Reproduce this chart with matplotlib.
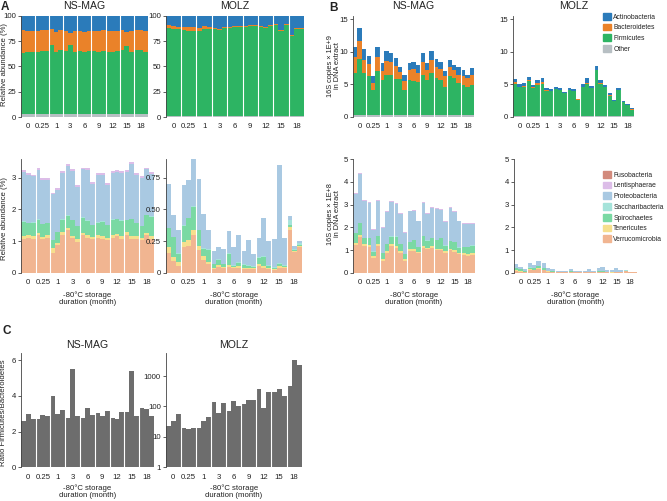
import matplotlib.pyplot as plt
import numpy as np
from matplotlib.patches import Patch

plt.rcParams['font.family'] = ['Liberation Sans', 'DejaVu Sans']
plt.rcParams['text.color'] = '#222222'
plt.rcParams['axes.edgecolor'] = '#444444'
plt.rcParams['xtick.color'] = '#444444'
plt.rcParams['ytick.color'] = '#444444'
plt.rcParams['xtick.labelcolor'] = '#222222'
plt.rcParams['ytick.labelcolor'] = '#222222'

W, H = 667, 501
FS = 5.6      # small text (ticks, labels)
FS_L = 4.9    # legend text
FS_T = 7.6    # panel titles

# storage durations (month), 3 replicate bars each
months = ["0", "0.25", "1", "3", "6", "9", "12", "15", "18"]

top_names = ["Actinobacteria", "Bacteroidetes", "Firmicutes", "Other"]
top_colors = ["#2b7bba", "#ea8229", "#2db463", "#b7bfc3"]
low_names = ["Fusobacteria", "Lentisphaerae", "Proteobacteria", "Saccharibacteria",
             "Spirochaetes", "Tenericutes", "Verrucomicrobia"]
low_colors = ["#d28a7c", "#dcbde8", "#a9c9e2", "#a5e3da", "#7ad9a3", "#f6df8d", "#f1b591"]

# ---- A, top: relative abundance (%) of main phyla
a_ns_other = [3.0, 3.2, 2.8, 3.0, 3.1, 2.9, 3.0, 2.8, 3.2, 3.0, 3.0, 2.9, 3.1, 3.0, 2.9, 3.0, 3.1, 3.0,
              2.9, 3.0, 3.1, 3.0, 3.0, 2.9, 3.0, 3.1, 3.0]
a_ns_firm = [60, 61, 61, 61, 62, 62, 68, 61, 63, 62, 68, 61, 62, 61, 62, 62, 61, 62,
             61, 61, 62, 63, 67, 61, 63, 63, 61]
a_ns_bact = [23, 21, 21, 21, 21, 21, 16, 20, 20, 20, 12, 21, 20, 20, 20, 20, 21, 21,
             21, 21, 20, 20, 13.5, 21, 20, 20, 21]
a_ns_actino = [14, 15, 15, 15, 14, 14, 13, 16, 14, 15, 17, 15, 15, 16, 15, 15, 15, 14,
               15, 15, 15, 14, 16.5, 15, 14, 14, 15]

a_mz_other = [0.5, 0.5, 0.5, 0.5, 0.5, 0.5, 0.5, 0.5, 0.5, 0.5, 0.5, 0.5, 0.5, 0.5, 0.5, 0.5, 0.5, 0.5,
              0.5, 0.5, 0.5, 0.5, 0.5, 0.5, 0.5, 0.5, 0.5]
a_mz_firm = [87.5, 86.5, 86.5, 85.5, 84.5, 84.5, 84.5, 86.5, 86.5, 86.5, 85.5, 87.5, 87.5, 88.5, 88.5, 88.5,
             89.5, 89.5, 88.5, 87.5, 89.5, 90.5, 84.5, 90.5, 79.5, 86.5, 86.5]
a_mz_bact = [3.0, 2.5, 2.0, 3.0, 3.5, 4.0, 3.0, 2.5, 2.0, 1.0, 1.0, 0.5, 1.0, 0.5, 0.5, 0.5, 0.5, 0.5,
             0.5, 0.5, 0.5, 0.5, 0.5, 0.5, 0.5, 0.5, 0.5]
a_mz_actino = [9.0, 10.5, 11.0, 11.0, 11.5, 11.0, 12.0, 10.5, 11.0, 12.0, 13.0, 11.5, 11.0, 10.5, 10.5, 10.5,
               9.5, 9.5, 10.5, 11.5, 9.5, 8.5, 14.5, 8.5, 19.5, 12.5, 12.5]

# ---- A, bottom: relative abundance (%) of minor phyla
a_ns_verru = [1.08, 1.11, 1.08, 1.19, 1.05, 1.11, 0.61, 0.87, 1.20, 1.35, 1.10, 0.98, 1.19, 1.11, 1.05, 1.11,
              1.08, 1.03, 1.11, 1.16, 1.08, 1.20, 1.08, 1.08, 1.03, 1.19, 1.08]
a_ns_tener = [0.08, 0.07, 0.07, 0.07, 0.07, 0.07, 0.16, 0.08, 0.07, 0.07, 0.07, 0.07, 0.07, 0.07, 0.07, 0.07,
              0.07, 0.07, 0.07, 0.07, 0.07, 0.07, 0.07, 0.07, 0.07, 0.07, 0.07]
a_ns_spiro = [0.45, 0.38, 0.43, 0.42, 0.41, 0.38, 0.26, 0.34, 0.41, 0.38, 0.48, 0.42, 0.48, 0.46, 0.38, 0.40,
              0.46, 0.40, 0.50, 0.47, 0.49, 0.38, 0.55, 0.41, 0.37, 0.56, 0.62]
a_ns_sacch = [0.01, 0.01, 0.01, 0.01, 0.01, 0.01, 0.01, 0.01, 0.01, 0.01, 0.01, 0.01, 0.01, 0.01, 0.01, 0.01,
              0.01, 0.01, 0.01, 0.01, 0.01, 0.01, 0.01, 0.01, 0.01, 0.01, 0.01]
a_ns_prot = [1.56, 1.52, 1.45, 1.55, 1.40, 1.37, 1.43, 1.30, 1.45, 1.55, 1.55, 1.23, 1.51, 1.59, 1.30, 1.51,
             1.48, 1.25, 1.45, 1.47, 1.49, 1.52, 1.72, 1.51, 1.51, 1.43, 1.35]
a_ns_lenti = [0.06, 0.07, 0.06, 0.06, 0.06, 0.06, 0.06, 0.06, 0.06, 0.06, 0.06, 0.06, 0.06, 0.06, 0.06, 0.06,
              0.06, 0.06, 0.06, 0.06, 0.06, 0.06, 0.06, 0.06, 0.06, 0.06, 0.06]

a_mz_verru = [0.155, 0.094, 0.054, 0.20, 0.21, 0.295, 0.18, 0.10, 0.067, 0.027, 0.046, 0.035, 0.046, 0.035,
              0.04, 0.027, 0.027, 0.027, 0.054, 0.04, 0.027, 0.019, 0.04, 0.035, 0.34, 0.16, 0.20]
a_mz_tener = [0.045, 0.032, 0.03, 0.04, 0.05, 0.045, 0.03, 0.03, 0.02, 0.012, 0.012, 0.01, 0.012, 0.008,
              0.01, 0.008, 0.008, 0.008, 0.015, 0.012, 0.008, 0.008, 0.015, 0.008, 0.02, 0.008, 0.008]
a_mz_spiro = [0.15, 0.154, 0.063, 0.13, 0.17, 0.18, 0.125, 0.06, 0.093, 0.028, 0.042, 0.022, 0.089, 0.011,
              0.03, 0.027, 0.019, 0.011, 0.051, 0.074, 0.019, 0.013, 0.017, 0.011, 0.02, 0.012, 0.01]
a_mz_sacch = [0.005, 0.005, 0.005, 0.005, 0.005, 0.005, 0.005, 0.005, 0.005, 0.005, 0.005, 0.005, 0.005, 0.005,
              0.005, 0.005, 0.005, 0.005, 0.005, 0.005, 0.005, 0.005, 0.005, 0.005, 0.035, 0.01, 0.018]
a_mz_prot = [0.345, 0.17, 0.188, 0.315, 0.295, 0.375, 0.40, 0.265, 0.155, 0.102, 0.095, 0.118, 0.178, 0.141,
             0.21, 0.103, 0.201, 0.096, 0.15, 0.299, 0.191, 0.225, 0.773, 0.216, 0.03, 0.02, 0.017]

# ---- B, top: 16S copies x 1E+9
b_ns_other = [0.3, 0.3, 0.3, 0.3, 0.3, 0.3, 0.3, 0.3, 0.3, 0.3, 0.3, 0.3, 0.3, 0.3, 0.3, 0.3, 0.3, 0.3,
              0.3, 0.3, 0.3, 0.3, 0.3, 0.3, 0.3, 0.3, 0.3]
b_ns_firm = [6.5, 8.6, 6.4, 6.0, 3.8, 6.7, 5.35, 6.1, 6.1, 5.45, 5.45, 3.8, 5.35, 5.25, 5.1, 6.1, 5.35, 6.4,
             5.6, 5.35, 4.3, 5.9, 5.6, 4.95, 4.6, 4.3, 4.6]
b_ns_bact = [2.4, 2.8, 2.0, 1.8, 1.1, 2.2, 1.35, 2.2, 2.1, 2.05, 1.15, 1.4, 1.55, 1.75, 1.3, 2.1, 1.55, 2.0,
             1.8, 1.65, 1.6, 1.4, 1.3, 1.25, 1.4, 1.3, 1.5]
b_ns_actino = [1.5, 2.0, 1.7, 1.25, 1.1, 1.6, 1.2, 1.5, 1.35, 1.3, 0.8, 0.9, 1.1, 1.2, 1.3, 1.35, 1.0, 1.4,
               1.2, 1.1, 0.8, 1.1, 0.8, 1.1, 0.9, 0.6, 1.1]

b_mz_other = [0.05, 0.05, 0.05, 0.05, 0.05, 0.05, 0.05, 0.05, 0.05, 0.05, 0.05, 0.05, 0.05, 0.05, 0.05, 0.05,
              0.05, 0.05, 0.05, 0.05, 0.05, 0.05, 0.05, 0.05, 0.05, 0.05, 0.05]
b_mz_firm = [5.05, 4.45, 4.55, 5.45, 4.3, 4.85, 5.05, 3.95, 3.9, 4.15, 4.05, 3.55, 4.05, 3.9, 2.6, 4.55,
             5.05, 4.3, 7.15, 5.05, 4.45, 3.2, 2.4, 4.05, 2.15, 1.7, 1.05]
b_mz_bact = [0.17, 0.13, 0.1, 0.18, 0.17, 0.23, 0.18, 0.11, 0.08, 0.05, 0.04, 0.02, 0.04, 0.02, 0.01, 0.02,
             0.03, 0.02, 0.04, 0.03, 0.02, 0.02, 0.01, 0.02, 0.01, 0.01, 0.01]
b_mz_actino = [0.48, 0.47, 0.5, 0.47, 0.38, 0.52, 0.62, 0.24, 0.17, 0.35, 0.31, 0.23, 0.26, 0.28, 0.14, 0.38,
               0.77, 0.43, 0.56, 0.52, 0.38, 0.33, 0.19, 0.28, 0.24, 0.19, 0.19]

# ---- B, bottom: 16S copies x 1E+8
b_ns_verru = [1.22, 1.56, 1.19, 1.14, 0.67, 1.19, 0.52, 0.89, 1.19, 1.11, 0.89, 0.52, 0.96, 0.96, 0.85, 1.11,
              1.04, 1.11, 0.99, 0.99, 0.89, 0.99, 0.93, 0.82, 0.79, 0.74, 0.79]
b_ns_tener = [0.07, 0.10, 0.07, 0.07, 0.07, 0.07, 0.10, 0.07, 0.07, 0.07, 0.07, 0.07, 0.07, 0.07, 0.07, 0.07,
              0.07, 0.07, 0.07, 0.07, 0.07, 0.07, 0.07, 0.07, 0.07, 0.07, 0.07]
b_ns_spiro = [0.45, 0.52, 0.27, 0.32, 0.19, 0.37, 0.23, 0.30, 0.33, 0.41, 0.30, 0.23, 0.31, 0.41, 0.22, 0.45,
              0.30, 0.35, 0.38, 0.47, 0.23, 0.32, 0.34, 0.22, 0.28, 0.33, 0.33]
b_ns_sacch = [0.01, 0.01, 0.01, 0.01, 0.01, 0.01, 0.01, 0.01, 0.01, 0.01, 0.01, 0.01, 0.01, 0.01, 0.01, 0.01,
              0.01, 0.01, 0.01, 0.01, 0.01, 0.01, 0.01, 0.01, 0.01, 0.01, 0.01]
b_ns_prot = [1.71, 2.17, 1.64, 1.54, 0.93, 1.54, 1.13, 1.41, 1.52, 1.43, 1.32, 0.91, 1.35, 1.28, 1.11, 1.44,
             1.17, 1.31, 1.37, 1.24, 1.02, 1.46, 1.33, 1.14, 0.99, 0.99, 0.94]
b_ns_lenti = [0.04, 0.04, 0.04, 0.04, 0.04, 0.04, 0.04, 0.04, 0.04, 0.04, 0.04, 0.04, 0.04, 0.04, 0.04, 0.04,
              0.04, 0.04, 0.04, 0.04, 0.04, 0.04, 0.04, 0.04, 0.04, 0.04, 0.04]

b_mz_verru = [0.089, 0.048, 0.028, 0.123, 0.103, 0.167, 0.106, 0.044, 0.028, 0.012, 0.020, 0.013, 0.020, 0.015,
              0.011, 0.014, 0.016, 0.013, 0.042, 0.023, 0.013, 0.007, 0.011, 0.015, 0.083, 0.031, 0.026]
b_mz_tener = [0.026, 0.016, 0.016, 0.025, 0.025, 0.025, 0.018, 0.013, 0.008, 0.005, 0.005, 0.005, 0.005, 0.005,
              0.005, 0.005, 0.005, 0.005, 0.005, 0.005, 0.005, 0.005, 0.005, 0.005, 0.005, 0.003, 0.002]
b_mz_spiro = [0.086, 0.079, 0.033, 0.080, 0.083, 0.102, 0.074, 0.026, 0.039, 0.013, 0.019, 0.008, 0.039, 0.005,
              0.008, 0.014, 0.011, 0.005, 0.040, 0.042, 0.009, 0.005, 0.005, 0.005, 0.005, 0.002, 0.001]
b_mz_sacch = [0.003, 0.003, 0.003, 0.003, 0.003, 0.003, 0.003, 0.003, 0.003, 0.003, 0.003, 0.003, 0.003, 0.003,
              0.003, 0.003, 0.003, 0.003, 0.003, 0.003, 0.003, 0.003, 0.003, 0.003, 0.009, 0.002, 0.002]
b_mz_prot = [0.198, 0.087, 0.098, 0.194, 0.145, 0.212, 0.236, 0.115, 0.065, 0.047, 0.042, 0.045, 0.078, 0.06,
             0.059, 0.052, 0.119, 0.046, 0.117, 0.169, 0.094, 0.081, 0.205, 0.095, 0.007, 0.004, 0.002]

# ---- C: Firmicutes / Bacteroidetes ratio
c_ns_ratio = [2.6, 3.0, 2.7, 2.7, 2.95, 2.85, 4.0, 3.0, 3.2, 2.75, 5.5, 2.85, 2.75, 3.3, 2.95, 3.05, 2.85, 3.15,
              2.75, 2.7, 3.1, 3.1, 5.4, 2.85, 3.3, 3.25, 2.9]
c_mz_ratio = [23, 34, 58, 20, 18, 19, 19, 34, 44, 140, 63, 127, 73, 150, 104, 122, 163, 163,
              376, 91, 290, 310, 370, 225, 460, 3300, 2250]


fig = plt.figure(figsize=(W / 100, H / 100), dpi=100)


def px_axes(x0, y0, x1, y1):
    """axes from pixel box (left, top, right, bottom)"""
    return fig.add_axes([x0 / W, 1 - y1 / H, (x1 - x0) / W, (y1 - y0) / H])


def stacked(ax, layers, colors):
    x = np.arange(len(layers[0]))
    bottom = np.zeros(len(x))
    for vals, c in zip(layers, colors):
        ax.bar(x, vals, width=1.0, bottom=bottom, color=c, linewidth=0)
        bottom += np.array(vals)


def style(ax, ylim, yticks, yticklabels=None):
    ax.set_xlim(-0.5, 26.5)
    ax.set_ylim(*ylim)
    for xv in np.arange(2.5, 26, 3):
        ax.axvline(xv, color='white', lw=0.8)
    ax.set_xticks(np.arange(1, 27, 3))
    ax.set_xticklabels(months)
    ax.tick_params(axis='x', length=0, pad=4.5, labelsize=FS)
    ax.tick_params(axis='y', length=2.2, width=0.6, pad=1.2, labelsize=FS)
    ax.set_yticks(yticks)
    if yticklabels is not None:
        ax.set_yticklabels(yticklabels)
    for s in ['top', 'right', 'bottom']:
        ax.spines[s].set_visible(False)
    ax.spines['left'].set_linewidth(0.6)


def xlab(ax, y):
    box = ax.get_position()
    fig.text(box.x0 + box.width / 2, 1 - y / H, "-80°C storage\nduration (month)",
             ha='center', va='center', fontsize=FS, linespacing=1.05)


def ylab(x, y, s, fs=FS):
    fig.text(x / W, 1 - y / H, s, rotation=90, ha='center', va='center', fontsize=fs, linespacing=1.0)


# Panel A top
ax = px_axes(20.7, 15.7, 148, 117)
stacked(ax, [a_ns_other, a_ns_firm, a_ns_bact, a_ns_actino], top_colors[::-1])
style(ax, (0, 100), [0, 25, 50, 75, 100])
ax.set_title("NS-MAG", fontsize=FS_T, pad=4.5)
ax = px_axes(165.7, 15.7, 304, 117)
stacked(ax, [a_mz_other, a_mz_firm, a_mz_bact, a_mz_actino], top_colors[::-1])
style(ax, (0, 100), [0, 25, 50, 75, 100])
ax.set_title("MOLZ", fontsize=FS_T, pad=4.5)
ylab(5, 64, "Relative abundance (%)")

# Panel A bottom
low_stack_colors = low_colors[::-1][:6]
ax = px_axes(20.7, 158.7, 154, 272.7)
stacked(ax, [a_ns_verru, a_ns_tener, a_ns_spiro, a_ns_sacch, a_ns_prot, a_ns_lenti], low_stack_colors)
style(ax, (0, 3.6), [0, 1, 2, 3])
xlab(ax, 299)
ax = px_axes(165.7, 158.7, 301.7, 272.7)
stacked(ax, [a_mz_verru, a_mz_tener, a_mz_spiro, a_mz_sacch, a_mz_prot], low_stack_colors[:5])
style(ax, (0, 0.9), [0, 0.25, 0.5, 0.75], ["0", "0.25", "0.50", "0.75"])
xlab(ax, 299)
ylab(5, 219, "Relative abundance (%)")

# Panel B top
ax = px_axes(353, 16.1, 474, 116.7)
stacked(ax, [b_ns_other, b_ns_firm, b_ns_bact, b_ns_actino], top_colors[::-1])
style(ax, (0, 15.5), [0, 5, 10, 15])
ax.set_title("NS-MAG", fontsize=FS_T, pad=5)
ax = px_axes(513, 16.1, 634, 116.7)
stacked(ax, [b_mz_other, b_mz_firm, b_mz_bact, b_mz_actino], top_colors[::-1])
style(ax, (0, 15.5), [0, 5, 10, 15])
ax.set_title("MOLZ", fontsize=FS_T, pad=5)
ylab(334, 66, "16S copies × 1E+9\nin DNA extract", 5.3)

# Panel B bottom
ax = px_axes(353, 159.3, 475, 272.7)
stacked(ax, [b_ns_verru, b_ns_tener, b_ns_spiro, b_ns_sacch, b_ns_prot, b_ns_lenti], low_stack_colors)
style(ax, (0, 5), [0, 1, 2, 3, 4, 5])
xlab(ax, 299)
ax = px_axes(513.7, 159.3, 636.7, 272.7)
stacked(ax, [b_mz_verru, b_mz_tener, b_mz_spiro, b_mz_sacch, b_mz_prot], low_stack_colors[:5])
style(ax, (0, 5), [0, 1, 2, 3, 4, 5])
xlab(ax, 299)
ylab(334, 214, "16S copies × 1E+8\nin DNA extract", 5.3)

# Panel C
ax = px_axes(20.7, 353, 154, 467.3)
ax.bar(np.arange(27), c_ns_ratio, width=1.0, color='#6d6d6d', linewidth=0)
style(ax, (0, 6.4), [0, 2, 4, 6])
ax.set_title("NS-MAG", fontsize=FS_T, pad=3.5)
xlab(ax, 492)
ax = px_axes(165.7, 353, 301.7, 467.3)
ax.set_yscale('log')
ax.bar(np.arange(27), c_mz_ratio, width=1.0, color='#6d6d6d', linewidth=0)
style(ax, (1, 5750), [1, 10, 100, 1000], ["1", "10", "100", "1000"])
ax.minorticks_off()
ax.set_title("MOLZ", fontsize=FS_T, pad=3.5)
xlab(ax, 492)
ylab(4, 413, "Ratio Firmicutes/Bacteroidetes")

# legends
for handles_c, names, ytop in [(top_colors, top_names, 13), (low_colors, low_names, 171)]:
    fig.legend([Patch(color=c) for c in handles_c], names, loc='upper left',
               bbox_to_anchor=(603 / W, 1 - ytop / H), frameon=False, fontsize=FS_L,
               handlelength=1.15, handleheight=1.15, handletextpad=0.35, labelspacing=0.45,
               borderaxespad=0, borderpad=0)

# panel letters
for lx, ly, letter in [(5, 7, "A"), (333, 8, "B"), (7, 331, "C")]:
    fig.text(lx / W, 1 - ly / H, letter, fontsize=8.5, fontweight='bold', ha='center', va='center')

plt.savefig("out.png", dpi=100)
